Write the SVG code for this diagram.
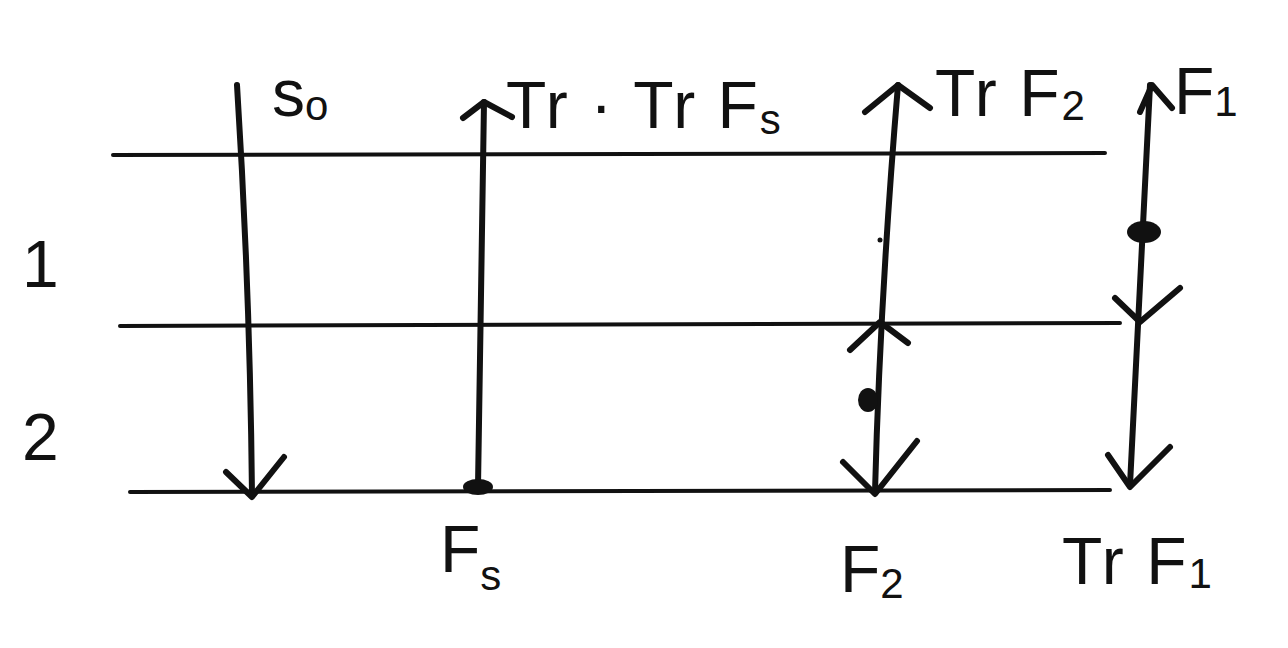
<svg xmlns="http://www.w3.org/2000/svg" width="1288" height="648" viewBox="0 0 1288 648">
<style>
.ln{stroke:#111;stroke-width:4;fill:none;stroke-linecap:round}
.ar{stroke:#111;stroke-width:6;fill:none;stroke-linecap:round;stroke-linejoin:round}
.t{font-family:"Liberation Sans",sans-serif;fill:#111;font-size:66px}
.s{font-size:42px}
</style>
<rect width="1288" height="648" fill="#fff"/>
<g id="levels">
<line class="ln" x1="113" y1="155" x2="1105" y2="153"/>
<line class="ln" x1="120" y1="326" x2="1120" y2="323"/>
<line class="ln" x1="130" y1="492" x2="1110" y2="490"/>
</g>
<g id="connectors">
<path class="ar" d="M237,85 Q250,290 252,495"/>
<path class="ar" d="M226,472 L252,497 L284,457"/>
<path class="ar" d="M478,487 L484,102"/>
<path class="ar" d="M463,118 L484,102 L512,117"/>
<path class="ar" d="M875,492 Q880,300 898,85"/>
<path class="ar" d="M865,112 L898,85 L930,108"/>
<path class="ar" d="M850,350 L880,322 L908,343"/>
<path class="ar" d="M843,462 L875,494 L917,441"/>
<path class="ar" d="M1150,85 Q1140,300 1130,485"/>
<path class="ar" d="M1140,112 L1152,85 L1172,108"/>
<path class="ar" d="M1115,298 L1140,322 L1180,288"/>
<path class="ar" d="M1108,455 L1130,487 L1170,447"/>
<ellipse cx="478" cy="487" rx="15" ry="8" fill="#111"/>
<ellipse cx="868" cy="400" rx="10" ry="12" fill="#111"/>
<ellipse cx="1144" cy="232" rx="17" ry="11" fill="#111"/>
<circle cx="880" cy="240" r="2.5" fill="#111"/>
</g>
<g id="labels">
<text class="t" x="272" y="116" font-size="58">s<tspan class="s" dy="4">o</tspan></text>
<text class="t" x="506" y="128" letter-spacing="2">Tr · Tr F<tspan class="s" dy="6">s</tspan></text>
<text class="t" x="935" y="116" letter-spacing="2">Tr F<tspan class="s" dy="4">2</tspan></text>
<text class="t" x="1174" y="114">F<tspan class="s" dy="2">1</tspan></text>
<text class="t" x="440" y="572">F<tspan class="s" dy="18">s</tspan></text>
<text class="t" x="840" y="592">F<tspan class="s" dy="6">2</tspan></text>
<text class="t" x="1062" y="584" letter-spacing="2">Tr F<tspan class="s" dy="4">1</tspan></text>
<text class="t" x="22" y="287">1</text>
<text class="t" x="22" y="460">2</text>
</g>
</svg>
